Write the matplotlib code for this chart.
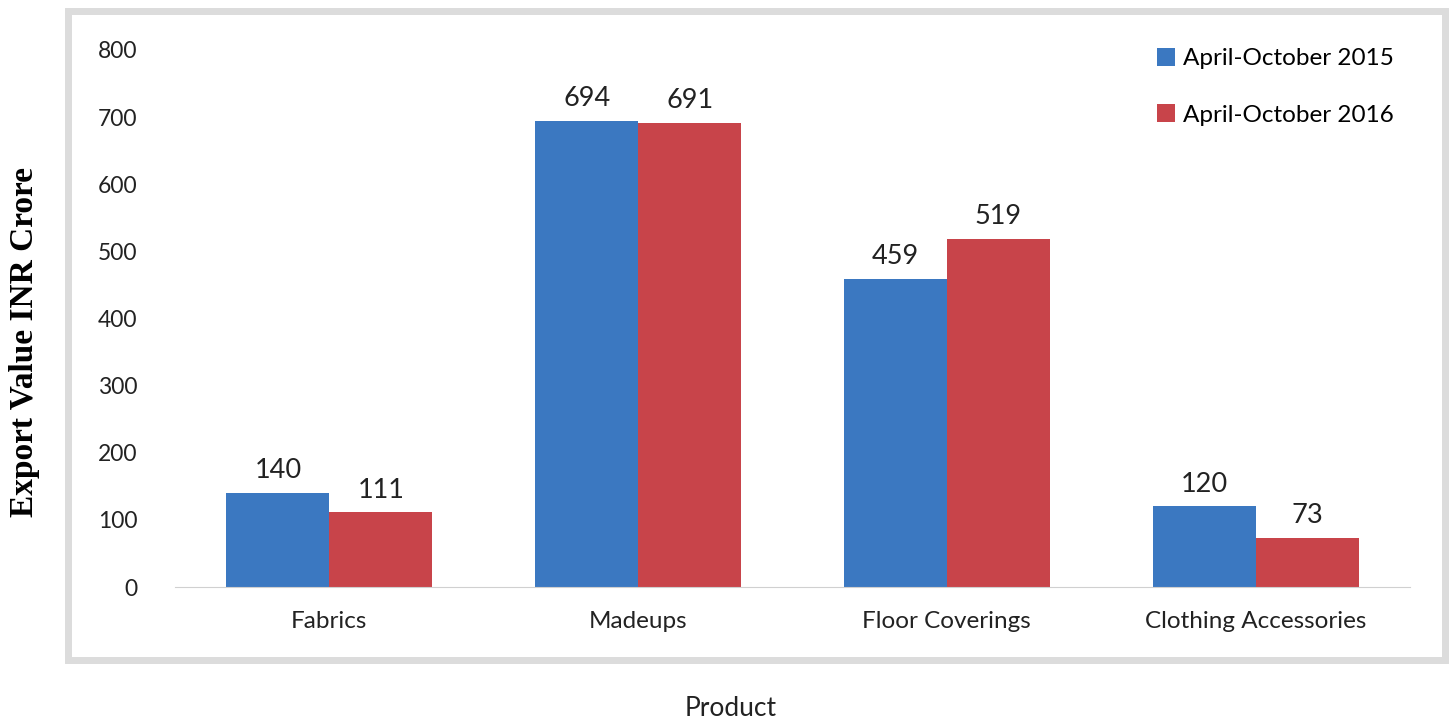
import numpy as np
import matplotlib.pyplot as plt
from matplotlib.patches import Rectangle

products = ['Fabrics', 'Madeups', 'Floor Coverings', 'Clothing Accessories']
exports_2015 = [140, 694, 459, 120]
exports_2016 = [111, 691, 519, 73]
series_names = ['April-October 2015', 'April-October 2016']
y_ticks = [0, 100, 200, 300, 400, 500, 600, 700, 800]

blue = '#3b78c1'
red = '#c8444a'
sans = ['Lato', 'DejaVu Sans']

W, H = 1452, 722
fig = plt.figure(figsize=(W / 100, H / 100), dpi=100)

# grey frame around the plot area
fig.patches.append(Rectangle((68 / W, 1 - 660 / H), 1377 / W, 649 / H,
                             transform=fig.transFigure, fill=False,
                             edgecolor='#dcdcdc', linewidth=5))

ax = fig.add_axes([175 / W, 1 - 587 / H, 1235 / W, 537 / H])
x = np.arange(len(products))
w = 1 / 3
b1 = ax.bar(x - w / 2, exports_2015, w, color=blue, label=series_names[0])
b2 = ax.bar(x + w / 2, exports_2016, w, color=red, label=series_names[1])

for bars in (b1, b2):
    for rect in bars:
        v = rect.get_height()
        ax.annotate(f'{v:g}', (rect.get_x() + rect.get_width() / 2, v),
                    xytext=(0, 7), textcoords='offset points', ha='center',
                    va='bottom', fontsize=19.5, family=sans, color='#222222')

ax.set_xlim(-0.5, 3.5)
ax.set_ylim(0, 800)
ax.set_yticks(y_ticks)
ax.set_xticks(x)
ax.set_xticklabels(products)
for s in ['top', 'right', 'left']:
    ax.spines[s].set_visible(False)
ax.spines['bottom'].set_color('#d0d0d0')
ax.tick_params(axis='both', length=0, labelsize=16.5, labelcolor='#222222')
ax.tick_params(axis='y', pad=27)
ax.tick_params(axis='x', pad=17, labelsize=17.5)
for lbl in ax.get_xticklabels() + ax.get_yticklabels():
    lbl.set_family(sans)

ax.legend(loc='upper right', bbox_to_anchor=(1.005, 1.045), frameon=False,
          prop={'family': sans, 'size': 17.5}, handlelength=0.75,
          handleheight=0.75, handletextpad=0.35, labelspacing=1.45)

fig.text(25 / W, 1 - 342 / H, 'Export Value INR Crore', rotation=90,
         ha='center', va='center', fontsize=24, fontweight='bold',
         family='Liberation Serif')
fig.text(731 / W, 1 - 708 / H, 'Product', ha='center', va='center',
         fontsize=19, family=sans, color='#222222')

fig.savefig('out.png', dpi=100)
